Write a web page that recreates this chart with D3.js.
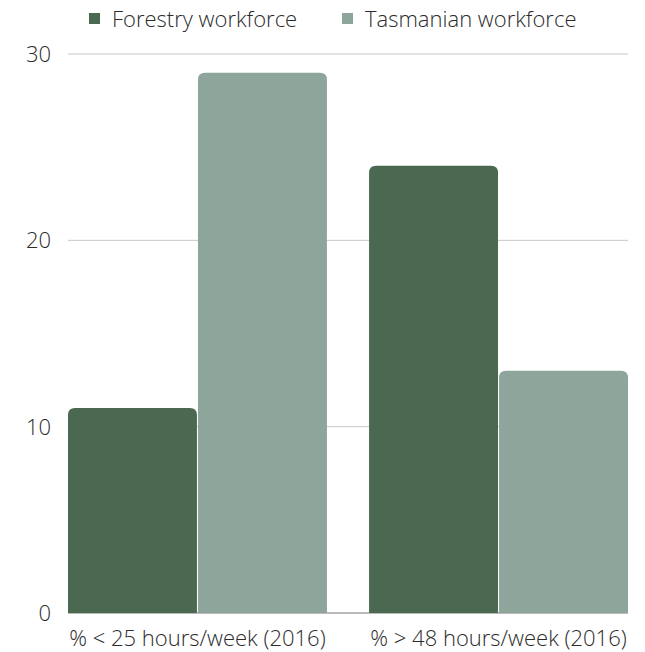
<!DOCTYPE html>
<html>
<head>
<meta charset="utf-8">
<script src="https://cdn.jsdelivr.net/npm/d3@7"></script>
<style>
  body { margin: 0; background: #fff; }
  text { font-family: "Open Sans", sans-serif; font-weight: 300; fill: #2b2b2b; }
</style>
</head>
<body>
<script>
// data
var categories = ["% < 25 hours/week (2016)", "% > 48 hours/week (2016)"];
var seriesNames = ["Forestry workforce", "Tasmanian workforce"];
var forestry = [11, 24];
var tasmanian = [29, 13];
var yTicks = [0, 10, 20, 30];

var colors = ["#4b6850", "#8da59b"];

var width = 645, height = 652;
var margin = {top: 54, right: 17, bottom: 39, left: 68};
var innerW = width - margin.left - margin.right;
var innerH = height - margin.top - margin.bottom;

var svg = d3.select("body").append("svg")
  .attr("width", width)
  .attr("height", height);

var g = svg.append("g")
  .attr("transform", "translate(" + margin.left + "," + margin.top + ")");

var x0 = d3.scaleBand().domain(categories).range([0, innerW])
  .paddingInner(0.14).paddingOuter(0);
var x1 = d3.scaleBand().domain(seriesNames).range([0, x0.bandwidth()])
  .paddingInner(0.008);
var y = d3.scaleLinear().domain([0, 30]).range([innerH, 0]);

// gridlines
g.selectAll(".grid").data(yTicks.filter(function(d) { return d > 0; }))
  .enter().append("line")
  .attr("x1", 0).attr("x2", innerW)
  .attr("y1", function(d) { return y(d); })
  .attr("y2", function(d) { return y(d); })
  .attr("stroke", "#c8c8c8").attr("stroke-width", 1);

// y labels
g.selectAll(".ylab").data(yTicks)
  .enter().append("text")
  .attr("x", -17)
  .attr("y", function(d) { return y(d); })
  .attr("dy", "0.36em")
  .attr("text-anchor", "end")
  .style("font-size", "22px")
  .text(function(d) { return d; });

// baseline
g.append("line")
  .attr("x1", 0).attr("x2", innerW)
  .attr("y1", y(0)).attr("y2", y(0))
  .attr("stroke", "#777").attr("stroke-width", 1.2);

var rows = categories.map(function(c, i) {
  return {cat: c, vals: [forestry[i], tasmanian[i]]};
});

// bar with rounded top corners
function topRounded(xp, yp, w, h, r) {
  r = Math.min(r, h, w / 2);
  return "M" + xp + "," + (yp + h) +
    "V" + (yp + r) +
    "Q" + xp + "," + yp + " " + (xp + r) + "," + yp +
    "H" + (xp + w - r) +
    "Q" + (xp + w) + "," + yp + " " + (xp + w) + "," + (yp + r) +
    "V" + (yp + h) + "Z";
}

var groups = g.selectAll(".grp").data(rows).enter().append("g")
  .attr("transform", function(d) { return "translate(" + x0(d.cat) + ",0)"; });

groups.selectAll("path").data(function(d) {
    return d.vals.map(function(v, j) { return {name: seriesNames[j], v: v, j: j}; });
  })
  .enter().append("path")
  .attr("d", function(d) {
    return topRounded(x1(d.name), y(d.v), x1.bandwidth(), y(0) - y(d.v), 7);
  })
  .attr("fill", function(d) { return colors[d.j]; });

// x labels
g.selectAll(".xlab").data(categories).enter().append("text")
  .attr("x", function(d) { return x0(d) + x0.bandwidth() / 2; })
  .attr("y", innerH + 33)
  .attr("text-anchor", "middle")
  .style("font-size", "22px")
  .text(function(d) { return d; });

// legend
var legendX = [89, 342];
var legend = svg.selectAll(".legend").data(seriesNames).enter().append("g")
  .attr("transform", function(d, i) { return "translate(" + legendX[i] + ",13)"; });
legend.append("rect")
  .attr("width", 11).attr("height", 11)
  .attr("fill", function(d, i) { return colors[i]; });
legend.append("text")
  .attr("x", 23).attr("y", 14)
  .style("font-size", "22px")
  .text(function(d) { return d; });
</script>
</body>
</html>
